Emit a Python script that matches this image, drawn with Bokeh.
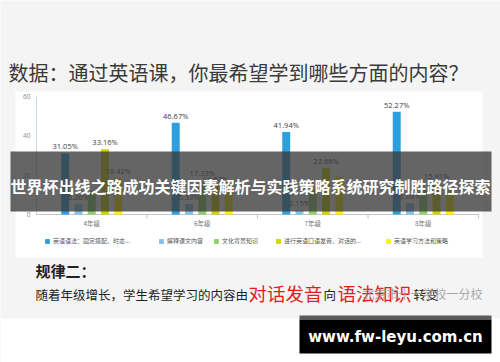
from bokeh.plotting import figure
from bokeh.models import (BoxAnnotation, Label, Legend, LegendItem, ColumnDataSource,
                          Range1d)
from bokeh.embed import file_html
from bokeh.resources import INLINE
from bokeh.core.properties import value

# ---------------- data ----------------
grades = ["4年级", "6年级", "7年级", "8年级"]
series_names = ["英语语法：固定搭配、时态...", "解释课文内容", "文化背景知识",
                "进行英语口语发音、对话的...", "英语学习方法和策略"]
s1 = [31.05, 46.67, 41.94, 52.27]
s2 = [5.26, 5.33, 2.15, 5.68]
s3 = [12.11, 17.33, 12.90, 12.50]
s4 = [33.16, 14.67, 23.66, 15.91]
s5 = [18.42, 16.00, 19.35, 13.64]
show1 = [True, True, True, True]
show2 = [True, True, True, True]
show3 = [False, True, False, False]
show4 = [True, True, True, True]
show5 = [True, False, False, False]
y_ticks = [0, 20, 40, 60]

title_text = "数据：通过英语课，你最希望学到哪些方面的内容？"
banner_text = "世界杯出线之路成功关键因素解析与实践策略系统研究制胜路径探索"
rule_title = "规律二："
rule_parts = ["随着年级增长，学生希望学习的内容由", "对话发音", "向", "语法知识", "转变"]
watermark = "北京市十一学校一分校"
url_text = "www.fw-leyu.com.cn"

# ---------------- layout ----------------
W, H = 500, 362
# chart plot area in canvas pixels
CL, CR, CT, CB = 36, 478, 96, 214
CJK = "Noto Sans CJK SC"
n = len(grades)
ymax = 60

# category slot range (0..n) and value range (0..60) mapped onto the canvas
gx_span = n * W / (CR - CL)
gx_start = -CL / (CR - CL) * n
val_span = ymax * H / (CB - CT)
val_start = -(H - CB) / H * val_span

p = figure(width=W, height=H, x_range=Range1d(0, W), y_range=Range1d(H, 0),
           output_backend="svg", toolbar_location=None, title=None,
           x_axis_type=None, y_axis_type=None,
           min_border=0)
p.extra_x_ranges = {"gx": Range1d(gx_start, gx_start + gx_span)}
p.extra_y_ranges = {"val": Range1d(val_start, val_start + val_span)}
p.background_fill_color = "#f4f4f4"
p.border_fill_color = "#f4f4f4"
p.outline_line_color = None
p.xgrid.visible = False
p.ygrid.visible = False


def box(l, t, r, b, color, alpha=1.0, level="underlay"):
    bx = BoxAnnotation(left=l, right=r, top=t, bottom=b,
                       fill_color=color, fill_alpha=alpha, line_color=None, level=level)
    p.add_layout(bx)
    return bx


def label(cx, cy, text, size, color="#333333", align="left", bold=False, font=CJK,
          alpha=1.0, level="annotation"):
    lb = Label(x=cx, y=cy, text=text,
               text_font=font, text_font_size=f"{size}px", text_color=color,
               text_align=align, text_baseline="middle", text_alpha=alpha,
               text_font_style="bold" if bold else "normal", level=level)
    p.add_layout(lb)
    return lb


# backgrounds
box(0, 318, 500, 362, "white")
box(15, 91, 482, 257, "white")

RX = dict(x_range_name="gx", y_range_name="val")
slots = list(range(n))
centers = [i + 0.5 for i in slots]

# y axis line + tick labels
p.segment(x0=[0], y0=[0], x1=[0], y1=[ymax], line_color="#c9d6e3", line_width=1, **RX)
p.text(x=[0] * len(y_ticks), y=y_ticks, text=[str(t) for t in y_ticks],
       x_offset=-6, text_align="right", text_baseline="middle",
       text_font=value("Open Sans"), text_font_size="6.5px", text_color="#8a8a8a", **RX)
# x axis line, boundary ticks, category labels
p.segment(x0=[0], y0=[0], x1=[n], y1=[0], line_color="#c4c4c4", line_width=1, **RX)
p.segment(x0=slots[1:] + [n], y0=[0] * n, x1=slots[1:] + [n], y1=[-2] * n,
          line_color="#c4c4c4", line_width=1, **RX)
p.text(x=centers, y=[-4.3] * n, text=grades, text_align="center", text_baseline="middle",
       text_font=value(CJK), text_font_size="6.5px", text_color="#777777", **RX)

colors = ["#2d9fdc", "#7fc2ea", "#8fcf6a", "#cdd500", "#fff100"]
series = [s1, s2, s3, s4, s5]
shows = [show1, show2, show3, show4, show5]
step = 0.12
bw = 0.072
renderers = []
for i, (vals, show, col) in enumerate(zip(series, shows, colors)):
    off = (i - 2) * step
    src = ColumnDataSource(dict(x=[c + off for c in centers], val=vals,
                                lab=[f"{v:.2f}%" if s else "" for v, s in zip(vals, show)]))
    r = p.vbar(x="x", top="val", bottom=0, width=bw, source=src,
               fill_color=col, line_color=None, **RX)
    renderers.append(r)
    p.text(x="x", y="val", text="lab", source=src,
           text_font=value("Open Sans"), text_font_size="7.5px", text_color="#404040",
           text_align="center", text_baseline="bottom", y_offset=-2, **RX)

# legends
leg_x = [44, 158, 213, 275, 385]
for name, r, lx in zip(series_names, renderers, leg_x):
    lg = Legend(items=[LegendItem(label=name, renderers=[r])],
                location=(lx, H - 245), orientation="horizontal",
                glyph_width=6, glyph_height=6, label_standoff=3, padding=0, margin=0,
                spacing=0, label_height=6, label_width=10,
                border_line_color=None, background_fill_alpha=0,
                label_text_font_size="6px", label_text_color="#555555",
                label_text_font=CJK)
    p.add_layout(lg)

# title
label(8, 72, title_text, 20, color="#3a3a3a")

# rule text
label(35, 270, rule_title, 15, color="#222222", bold=True)
label(35, 294, rule_parts[0], 12.5, color="#222222")
label(248, 292, rule_parts[1], 18.5, color="#e41c1c")
label(323, 294, rule_parts[2], 12.5, color="#222222")
label(337, 292, rule_parts[3], 18.5, color="#e41c1c")
label(413, 294, rule_parts[4], 12.5, color="#222222")
label(362, 293, watermark, 12, color="#999999", alpha=0.85)

# banner overlay
box(10, 151, 491, 211, "#3a3a3a", 0.78, level="overlay")
label(250, 185, banner_text, 16, color="white", align="center", bold=True, level="overlay")

# url box
box(299, 315, 491, 319, "#5a5a5a", level="overlay")
box(299, 319, 491, 353, "black", level="overlay")
label(395, 336, url_text, 15, color="white", align="center", bold=True,
      font="DejaVu Sans", level="overlay")

open("out.html", "w").write(file_html(p, INLINE))
